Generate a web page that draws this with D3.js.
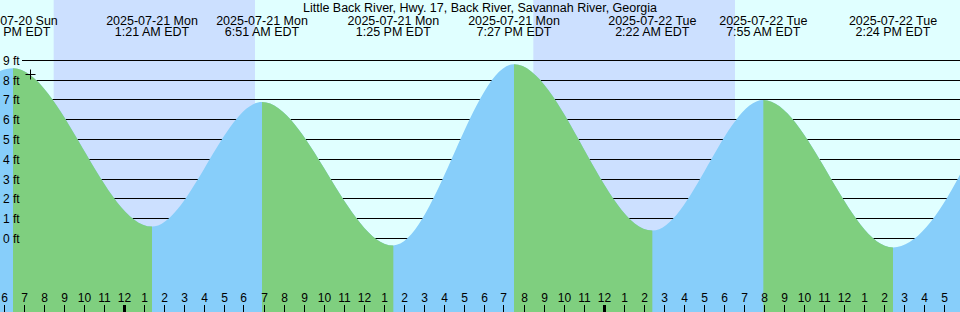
<!DOCTYPE html>
<html>
<head>
<meta charset="utf-8">
<script src="https://cdn.jsdelivr.net/npm/d3@7"></script>
<style>
body { margin: 0; background: #fff; }
svg { display: block; }
text { font-family: "Liberation Sans", Arial, sans-serif; fill: #000; }
</style>
</head>
<body>
<svg id="chart" width="960" height="312"></svg>
<script>
var title = "Little Back River, Hwy. 17, Back River, Savannah River, Georgia";

// high / low tide events (local EDT) and their levels in ft
var tideTimes = ["2025-07-20T12:15", "2025-07-20T18:24", "2025-07-21T01:21", "2025-07-21T06:51",
	"2025-07-21T13:25", "2025-07-21T19:27", "2025-07-22T02:22", "2025-07-22T07:55",
	"2025-07-22T14:24", "2025-07-22T20:15"];
var tideLevels = [-0.3, 8.6, 0.6, 6.9, -0.35, 8.8, 0.4, 7.0, -0.45, 8.8];

// sunset -> sunrise
var nightStarts = ["2025-07-20T20:26", "2025-07-21T20:25"];
var nightEnds = ["2025-07-21T06:30", "2025-07-22T06:30"];

var levelTicks = [0, 1, 2, 3, 4, 5, 6, 7, 8, 9];

var nowTime = "2025-07-20T19:15";
var nowLevel = 8.3;

var W = 960, H = 312;
var parse = d3.timeParse("%Y-%m-%dT%H:%M");
var svg = d3.select("#chart");

var x = d3.scaleTime()
	.domain([parse("2025-07-20T17:45"), parse("2025-07-22T17:45")])
	.range([0, W]);
var y = d3.scaleLinear().domain([0, 9]).range([238.5, 60.3]);

var tides = tideTimes.map(function (t, i) { return {t: parse(t), v: tideLevels[i]}; });

// sky
svg.append("rect").attr("width", W).attr("height", H).attr("fill", "#e0ffff");
svg.append("g").selectAll("rect").data(nightStarts).join("rect")
	.attr("x", function (d) { return x(parse(d)); })
	.attr("width", function (d, i) { return x(parse(nightEnds[i])) - x(parse(d)); })
	.attr("y", 0).attr("height", H)
	.attr("fill", "#cce0ff");

// level grid lines (hidden under the water)
svg.append("g").selectAll("line").data(levelTicks).join("line")
	.attr("x1", 22).attr("x2", W)
	.attr("y1", function (d) { return Math.floor(y(d)) + 0.5; })
	.attr("y2", function (d) { return Math.floor(y(d)) + 0.5; })
	.attr("stroke", "#000").attr("stroke-width", 1);

// water: falling parts green, rising parts blue
var defs = svg.append("defs");
var falling = defs.append("clipPath").attr("id", "fallclip");
for (var i = 0; i < tides.length - 1; ++i) {
	if (tides[i].v > tides[i + 1].v) {
		falling.append("rect")
			.attr("x", x(tides[i].t)).attr("y", 0)
			.attr("width", x(tides[i + 1].t) - x(tides[i].t)).attr("height", H);
	}
}
var area = d3.area()
	.x(function (d) { return x(d.t); })
	.y0(H)
	.y1(function (d) { return y(d.v); })
	.curve(d3.curveMonotoneX);

svg.append("path").datum(tides).attr("d", area).attr("fill", "#87cefa");
svg.append("path").datum(tides).attr("d", area).attr("fill", "#7fcf7f")
	.attr("clip-path", "url(#fallclip)");

// level labels
svg.append("g").selectAll("text").data(levelTicks).join("text")
	.attr("x", 3)
	.attr("y", function (d) { return Math.floor(y(d)) + 4.5; })
	.attr("font-size", "12px")
	.text(function (d) { return d + " ft"; });

// now marker
var nx = Math.round(x(parse(nowTime))) + 0.5, ny = Math.round(y(nowLevel)) + 0.5;
svg.append("path")
	.attr("d", "M" + (nx - 5) + "," + ny + "H" + (nx + 5) + "M" + nx + "," + (ny - 5) + "V" + (ny + 5))
	.attr("stroke", "#000").attr("stroke-width", 1);

// title + event labels
svg.append("text").attr("x", W / 2).attr("y", 12)
	.attr("text-anchor", "middle").attr("font-size", "12.5px").text(title);

var fmtDay = d3.timeFormat("%Y-%m-%d %a");
var fmtTime = d3.timeFormat("%-I:%M %p EDT");
var shown = tides.filter(function (d) { return x(d.t) >= 0 && x(d.t) <= W; });
var ev = svg.append("g").selectAll("g").data(shown).join("g")
	.attr("transform", function (d) { return "translate(" + x(d.t) + ",0)"; });
ev.append("text").attr("y", 25).attr("text-anchor", "middle").attr("font-size", "12.5px")
	.text(function (d) { return fmtDay(d.t); });
ev.append("text").attr("y", 36).attr("text-anchor", "middle").attr("font-size", "12.5px")
	.text(function (d) { return fmtTime(d.t); });

// hour axis at the bottom
var hours = x.ticks(d3.timeHour.every(1));
var ax = svg.append("g");
ax.selectAll("rect").data(hours).join("rect")
	.attr("x", function (d) {
		var px = Math.floor(x(d)) - 1;
		return d.getHours() === 0 ? px - 1 : px;
	})
	.attr("width", function (d) { return d.getHours() === 0 ? 3 : 1; })
	.attr("y", 305).attr("height", 7)
	.attr("fill", "#000");
ax.selectAll("text").data(hours).join("text")
	.attr("x", function (d) { return Math.floor(x(d)) - 0.5; })
	.attr("y", 302)
	.attr("text-anchor", "middle").attr("font-size", "12px")
	.text(d3.timeFormat("%-I"));
</script>
</body>
</html>
